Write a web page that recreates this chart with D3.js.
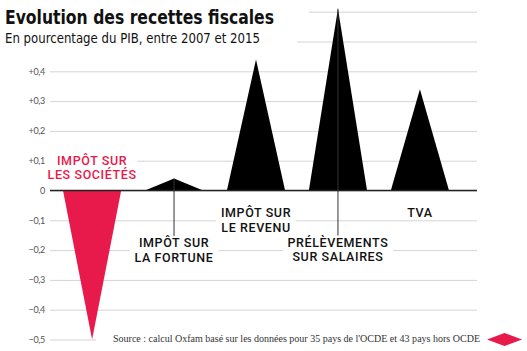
<!DOCTYPE html>
<html>
<head>
<meta charset="utf-8">
<script src="https://cdn.jsdelivr.net/npm/d3@7"></script>
<style>
  body { margin: 0; background: #fff; }
  svg { display: block; }
</style>
</head>
<body>
<div id="chart"></div>
<script>
// Data
const categories = ["is", "isf", "ir", "ps", "tva"];
const values = [-0.5, 0.04, 0.44, 0.61, 0.34];
const labelLines = [
    ["IMPÔT SUR", "LES SOCIÉTÉS"],
    ["IMPÔT SUR", "LA FORTUNE"],
    ["IMPÔT SUR", "LE REVENU"],
    ["PRÉLÈVEMENTS", "SUR SALAIRES"],
    ["TVA"]
];
const gridTicks = [-0.5, -0.4, -0.3, -0.2, -0.1, 0, 0.1, 0.2, 0.3, 0.4, 0.5, 0.6];
const labelledTicks = [-0.5, -0.4, -0.3, -0.2, -0.1, 0, 0.1, 0.2, 0.3, 0.4];
const titleText = "Evolution des recettes fiscales";
const subtitleText = "En pourcentage du PIB, entre 2007 et 2015";
const sourceText = "Source : calcul Oxfam basé sur les données pour 35 pays de l'OCDE et 43 pays hors OCDE";

// Layout
const width = 527, height = 351;
const plot = { left: 50, right: 477 };
const red = "#e8194b";
// where the first line of each label sits (in axis units) and whether a leader line is drawn
const labelAt = [0.086, -0.19, -0.089, -0.188, -0.089];
const leader = [false, true, false, true, false];

const svg = d3.select("#chart").append("svg")
    .attr("width", width)
    .attr("height", height);

const x = d3.scaleBand()
    .domain(categories)
    .range([63, 449])
    .paddingInner(0.29)
    .paddingOuter(0);

const y = d3.scaleLinear()
    .domain([-0.5, 0.6])
    .range([339.5, 11.7]);

const loc = d3.formatLocale({ decimal: ",", thousands: " ", grouping: [3], currency: ["", "€"] });
const f1 = loc.format(".1f");
const tickFmt = d => !labelledTicks.includes(d) ? "" : d === 0 ? "0" : (d > 0 ? "+" : "") + f1(d);

// Grid + axis
const axis = svg.append("g")
    .attr("transform", `translate(${plot.left},0)`)
    .call(d3.axisLeft(y)
        .tickValues(gridTicks)
        .tickSize(-(plot.right - plot.left))
        .tickPadding(5)
        .tickFormat(tickFmt));
axis.select(".domain").remove();
axis.selectAll(".tick text").filter(d => !labelledTicks.includes(d)).remove();
axis.selectAll(".tick line")
    .attr("stroke", "#d4d4d4")
    .attr("stroke-width", 1);
axis.selectAll(".tick text")
    .attr("fill", "#555")
    .attr("font-family", "Lato, 'Noto Sans', sans-serif")
    .attr("font-size", "9px")
    .attr("letter-spacing", "-0.3px");

// Triangles
const data = categories.map((c, i) => ({ key: c, value: values[i], lines: labelLines[i], at: labelAt[i], leader: leader[i] }));

svg.append("g").selectAll("path")
    .data(data)
    .join("path")
    .attr("d", d => {
        const x0 = x(d.key), x1 = x0 + x.bandwidth(), xc = x0 + x.bandwidth() / 2;
        return `M${x0},${y(0)}L${xc},${y(d.value)}L${x1},${y(0)}Z`;
    })
    .attr("fill", d => d.value < 0 ? red : "#000");

// Zero line
svg.append("line")
    .attr("x1", plot.left).attr("x2", plot.right)
    .attr("y1", y(0)).attr("y2", y(0))
    .attr("stroke", "#222")
    .attr("stroke-width", 1.6);

// Labels
const labels = svg.append("g").selectAll("g")
    .data(data)
    .join("g");

labels.each(function(d) {
    const g = d3.select(this);
    const cx = x(d.key) + x.bandwidth() / 2;
    const base = y(d.at);
    const bg = g.append("rect").attr("fill", "#fff");
    const t = g.append("text")
        .attr("text-anchor", "middle")
        .attr("font-family", "Roboto, sans-serif")
        .attr("font-weight", 500)
        .attr("font-size", "12.5px")
        .attr("letter-spacing", "0.6px")
        .attr("fill", d.value < 0 ? red : "#111");
    d.lines.forEach((line, j) => {
        t.append("tspan")
            .attr("x", cx)
            .attr("y", base + j * 14.5)
            .text(line);
    });
    const bb = t.node().getBBox();
    const pad = d.value < 0 ? 1 : 5;
    bg.attr("x", bb.x - pad).attr("y", bb.y)
        .attr("width", bb.width + 2 * pad).attr("height", bb.height);
    if (d.leader) {
        g.append("line")
            .attr("x1", cx).attr("x2", cx)
            .attr("y1", d.value > 0 ? y(d.value) : y(0))
            .attr("y2", bb.y + 1)
            .attr("stroke", "#333")
            .attr("stroke-width", 1);
    }
});

// Title
const titleBg = svg.append("g");
const title = svg.append("text")
    .attr("x", 5).attr("y", 23.5)
    .attr("font-family", "'Liberation Sans Narrow', 'DejaVu Sans Condensed', sans-serif")
    .attr("font-weight", 700)
    .attr("font-size", "20px")
    .attr("fill", "#111")
    .attr("textLength", 269)
    .attr("lengthAdjust", "spacingAndGlyphs")
    .text(titleText);
const subtitle = svg.append("text")
    .attr("x", 5).attr("y", 42.5)
    .attr("font-family", "'Liberation Sans Narrow', 'DejaVu Sans Condensed', sans-serif")
    .attr("font-size", "14.5px")
    .attr("fill", "#111")
    .attr("textLength", 255)
    .attr("lengthAdjust", "spacingAndGlyphs")
    .text(subtitleText);
titleBg.append("rect").attr("x", 0).attr("y", 0).attr("width", 309).attr("height", 27).attr("fill", "#fff");
titleBg.append("rect").attr("x", 0).attr("y", 27).attr("width", 297).attr("height", 22).attr("fill", "#fff");

// Source
const srcBg = svg.append("rect").attr("fill", "#fff");
const src = svg.append("text")
    .attr("x", 113).attr("y", 341.5)
    .attr("font-family", "'Liberation Serif', 'DejaVu Serif', serif")
    .attr("font-size", "9.6px")
    .attr("fill", "#333")
    .attr("textLength", 367)
    .attr("lengthAdjust", "spacingAndGlyphs")
    .text(sourceText);
const sb = src.node().getBBox();
srcBg.attr("x", sb.x - 17).attr("y", sb.y).attr("width", sb.width + 17).attr("height", sb.height);

// Red diamond
svg.append("path")
    .attr("d", "M487,339.5L504.5,333L522,339.5L504.5,346Z")
    .attr("fill", red);
</script>
</body>
</html>
